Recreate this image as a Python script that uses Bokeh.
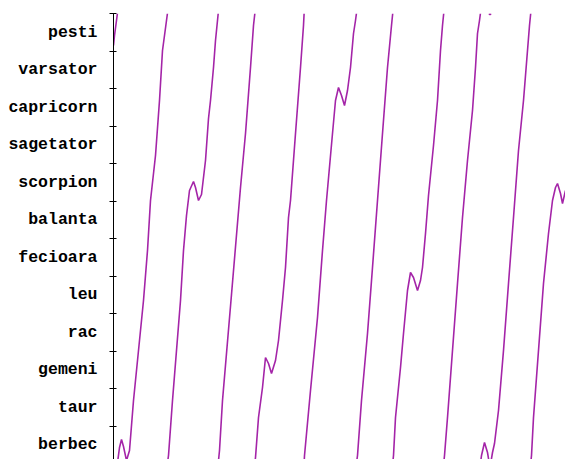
from bokeh.plotting import figure
from bokeh.models import Range1d, FixedTicker
from bokeh.embed import file_html
from bokeh.resources import INLINE

# zodiac signs (bottom to top), 30 degrees each
signs = ["berbec", "taur", "gemeni", "rac", "leu", "fecioara",
         "balanta", "scorpion", "sagetator", "capricorn", "varsator", "pesti"]

# day index and ecliptic longitude (degrees, wrapped 0..360)
days = [0, 1, 3,
        6, 8, 10, 13, 16, 20, 25, 30, 34, 37, 42, 46, 49, 53,
        55, 59, 63, 67, 70, 73, 76, 80, 82, 85, 88, 90, 92, 95, 97, 100, 102, 104,
        106, 109, 118, 127, 132, 137, 140,
        142, 145, 149, 152, 155, 158, 162, 165, 169, 172, 175, 177, 182, 187, 190,
        191, 197, 204, 209, 213, 219, 222, 225, 228, 231, 234, 237, 240, 242,
        244, 248, 254, 259, 264, 269, 274, 278,
        280, 282, 287, 290, 294, 297, 300, 304, 307, 309, 312, 315, 320, 324, 327, 329,
        331, 334, 339, 344, 349, 354, 359, 362, 364, 366,
        368, 371, 374, 376, 377, 379, 381, 385, 390, 395, 400, 405, 410, 414, 416,
        418, 420, 425, 430, 435, 439, 442, 444, 447, 449, 452]
lon = [334.4, 342.4, 354.4,
       12.8, 19.2, 13.6, 2.4, 10.4, 50.4, 90.4, 130.4, 170.4, 210.4, 246.4, 290.4, 330.4, 354.4,
       6.4, 50.4, 90.4, 130.4, 170.4, 198.4, 218.4, 225.6, 220.8, 210.4, 215.2, 228.8, 242.4, 276.0, 290.4, 316.8, 338.4, 354.4,
       10.4, 50.4, 135.2, 220.8, 264.0, 316.8, 350.4,
       4.8, 36.8, 60.8, 84.8, 80.0, 72.0, 82.4, 98.4, 130.4, 156.8, 196.8, 210.4, 264.0, 316.8, 350.4,
       6.4, 58.4, 116.8, 170.4, 210.4, 264.0, 290.4, 300.8, 294.4, 286.4, 298.4, 316.8, 344.0, 354.4,
       6.4, 50.4, 104.0, 156.8, 210.4, 264.0, 316.8, 350.4,
       6.4, 36.8, 76.8, 104.0, 138.4, 152.8, 148.8, 138.4, 146.4, 156.8, 184.0, 214.4, 254.4, 290.4, 330.4, 350.4,
       6.4, 36.8, 90.4, 144.0, 196.8, 242.4, 282.4, 316.8, 344.0, 354.4,
       6.4, 16.8, 8.8, 359.2, 359.2, 8.8, 16.0, 42.4, 90.4, 144.0, 196.8, 250.4, 290.4, 330.4, 350.4,
       6.4, 36.8, 90.4, 144.0, 184.0, 210.4, 220.8, 224.0, 216.0, 208.0, 218.4]

# split the wrapped series into pieces at the 0/360 boundary
xs_list, ys_list = [], []
cx, cy = [days[0]], [lon[0]]
for i in range(1, len(days)):
    d0, l0, d1, l1 = days[i - 1], lon[i - 1], days[i], lon[i]
    if l1 - l0 < -180:
        u = l1 + 360
        dc = d0 + (360 - l0) / (u - l0) * (d1 - d0)
        cx.append(dc); cy.append(360)
        xs_list.append(cx); ys_list.append(cy)
        cx, cy = [dc], [0]
    elif l1 - l0 > 180:
        u = l1 - 360
        dc = d0 + (0 - l0) / (u - l0) * (d1 - d0)
        cx.append(dc); cy.append(0)
        xs_list.append(cx); ys_list.append(cy)
        cx, cy = [dc], [360]
    cx.append(d1); cy.append(l1)
xs_list.append(cx); ys_list.append(cy)

p = figure(width=565, height=459, output_backend="svg", toolbar_location=None,
           x_range=Range1d(0, 452), y_range=Range1d(3.2, 360),
           min_border_left=113, min_border_right=0, min_border_top=13, min_border_bottom=0)
p.outline_line_color = None
p.xgrid.visible = False
p.ygrid.visible = False
p.xaxis.visible = False
p.background_fill_color = "white"
p.border_fill_color = "white"

p.multi_line(xs_list, ys_list, line_color="#a424a8", line_width=1.6)

centers = [15 + 30 * k for k in range(12)]
p.yaxis.ticker = FixedTicker(ticks=centers, minor_ticks=[30 * k for k in range(13)])
p.yaxis.major_label_overrides = {c: s for c, s in zip(centers, signs)}
p.yaxis.major_tick_in = 0
p.yaxis.major_tick_out = 0
p.yaxis.minor_tick_in = 3
p.yaxis.minor_tick_out = 4
p.yaxis.minor_tick_line_color = "black"
p.yaxis.axis_line_color = "black"
p.yaxis.axis_line_width = 1
p.yaxis.major_label_text_font = "Liberation Mono"
p.yaxis.major_label_text_font_style = "bold"
p.yaxis.major_label_text_font_size = "16.5px"
p.yaxis.major_label_text_color = "black"
p.yaxis.major_label_standoff = 12

open("out.html", "w").write(file_html(p, INLINE))
